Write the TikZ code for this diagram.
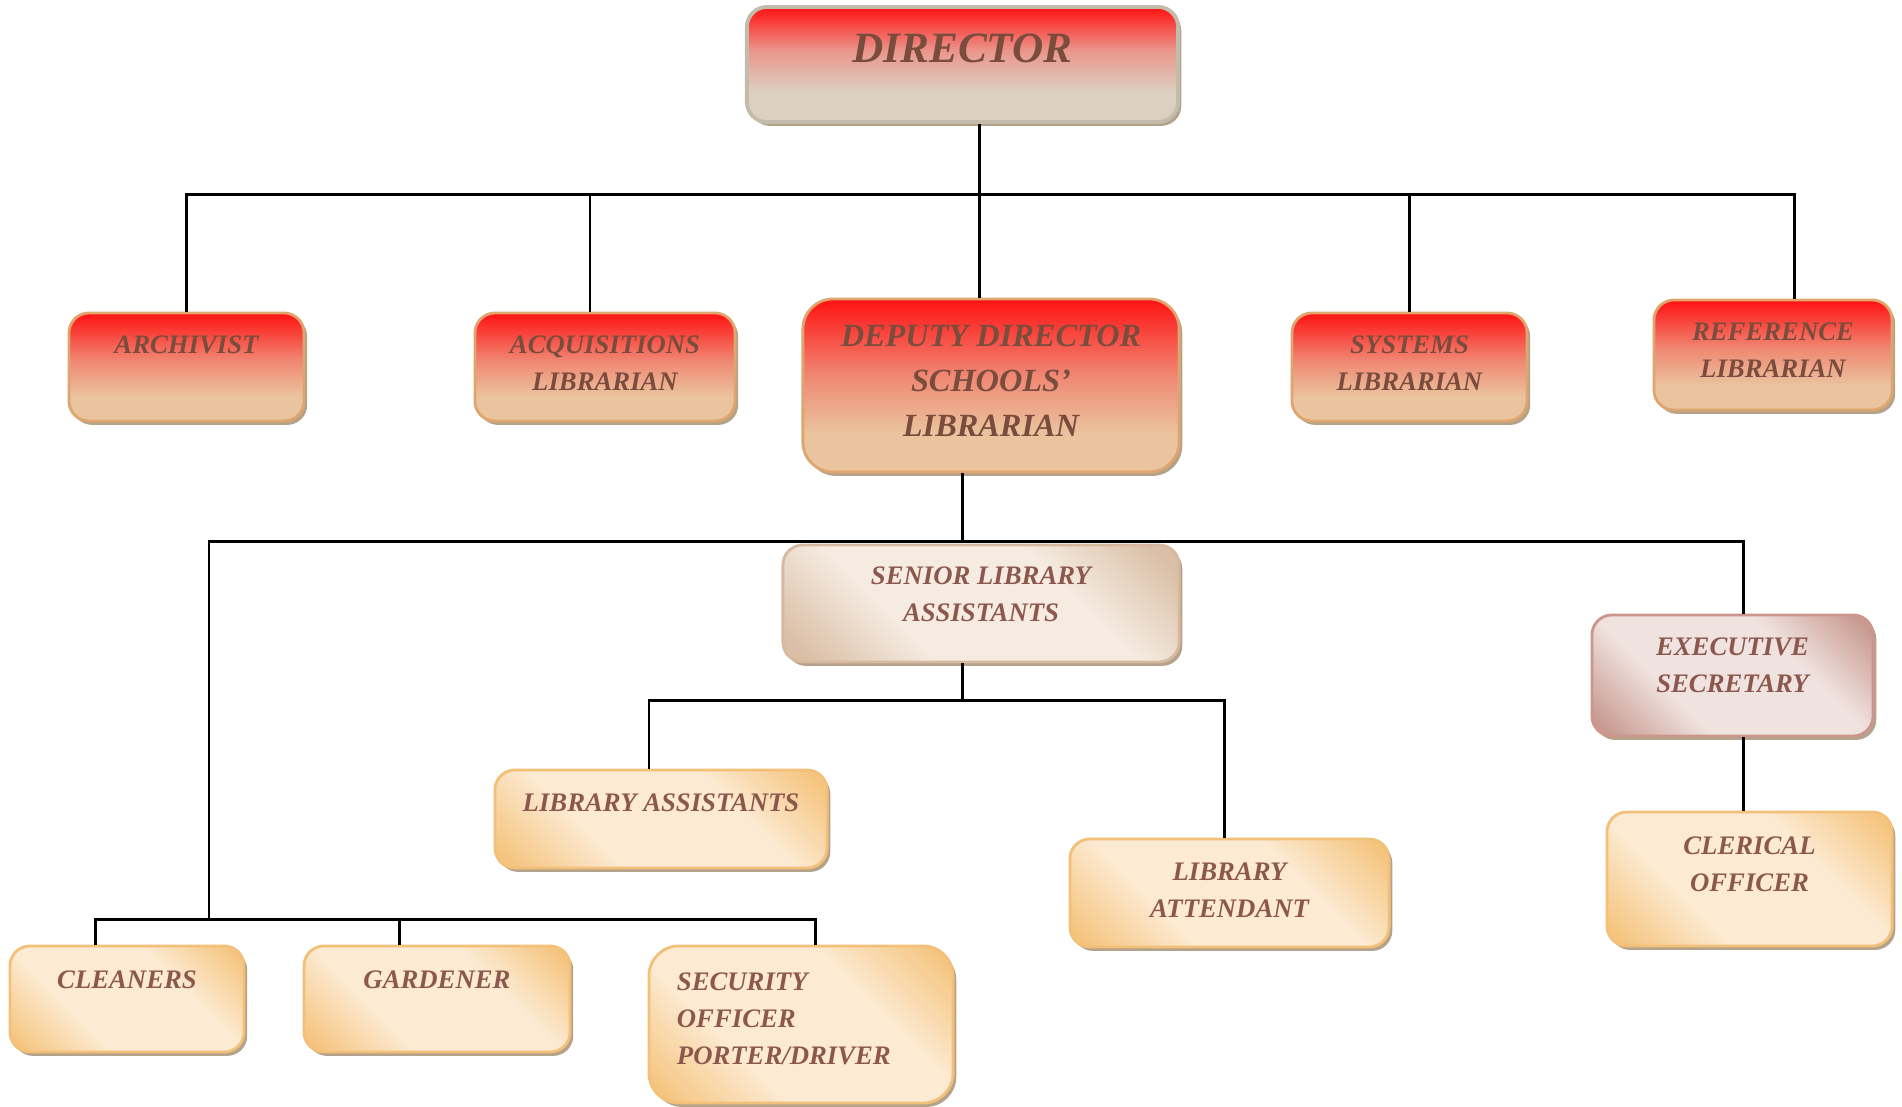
\documentclass[tikz,border=0pt]{standalone}
\usepackage{fontspec}
\setmainfont{Liberation Serif}
\usetikzlibrary{positioning,shadows}

\definecolor{redtop}{RGB}{255,18,18}
\definecolor{redmid}{RGB}{240,135,115}
\definecolor{redbot}{RGB}{234,196,158}
\definecolor{dirmid}{RGB}{234,150,140}
\definecolor{dirbot}{RGB}{220,208,192}
\definecolor{peachdk}{RGB}{245,197,128}
\definecolor{peachlt}{RGB}{252,234,210}
\definecolor{seniordk}{RGB}{218,190,165}
\definecolor{seniorlt}{RGB}{245,235,225}
\definecolor{execdk}{RGB}{200,155,145}
\definecolor{execlt}{RGB}{240,226,223}
\definecolor{redline}{RGB}{222,165,110}
\definecolor{dirline}{RGB}{195,188,172}
\definecolor{peachline}{RGB}{242,192,120}
\definecolor{seniorline}{RGB}{215,185,160}
\definecolor{execline}{RGB}{205,150,140}
\definecolor{shadowc}{RGB}{180,162,138}
\definecolor{txtred}{RGB}{122,76,62}
\definecolor{txtpeach}{RGB}{140,88,78}

\pgfdeclareverticalshading{redshade}{100bp}{color(0bp)=(redbot); color(36bp)=(redbot); color(53bp)=(redmid); color(75bp)=(redtop); color(100bp)=(redtop)}
\pgfdeclareverticalshading{dirshade}{100bp}{color(0bp)=(dirbot); color(38bp)=(dirbot); color(56bp)=(dirmid); color(75bp)=(redtop); color(100bp)=(redtop)}
\pgfdeclareverticalshading{peachshade}{100bp}{color(0bp)=(peachdk); color(18bp)=(peachdk); color(36bp)=(peachlt); color(64bp)=(peachlt); color(82bp)=(peachdk); color(100bp)=(peachdk)}
\pgfdeclareverticalshading{seniorshade}{100bp}{color(0bp)=(seniordk); color(18bp)=(seniordk); color(36bp)=(seniorlt); color(64bp)=(seniorlt); color(82bp)=(seniordk); color(100bp)=(seniordk)}
\pgfdeclareverticalshading{execshade}{100bp}{color(0bp)=(execdk); color(18bp)=(execdk); color(36bp)=(execlt); color(64bp)=(execlt); color(82bp)=(execdk); color(100bp)=(execdk)}

\begin{document}
\begin{tikzpicture}[
    x = 0.01cm, y = -0.01cm, % one unit = one pixel of the chart
    link/.style = {draw = black, line width = 0.85pt}
    ]

    \tikzset{
    box/.style = {rounded corners = 0.2cm, inner sep = 0pt, align = center,
        line width = 0.8pt, text = txtpeach,
        font = \bfseries\itshape\fontsize{7.6}{10.5}\selectfont,
        general shadow = {fill = shadowc, shadow xshift = 0.9pt, shadow yshift = -1.1pt}},
    redbox/.style = {box, draw = redline, shading = redshade, text = txtred},
    dirbox/.style = {box, draw = dirline, line width = 1.1pt, shading = dirshade, text = txtred,
        font = \bfseries\itshape\fontsize{12.3}{14}\selectfont},
    peachbox/.style = {box, draw = peachline, shading = peachshade, shading angle = -45},
    seniorbox/.style = {box, draw = seniorline, shading = seniorshade, shading angle = -45},
    execbox/.style = {box, draw = execline, shading = execshade, shading angle = -45},
    lift/.style = {text depth = #1*0.02cm} % moves the text up inside its box
    }

    \useasboundingbox (0,0) rectangle (1902,1107);

    % top level
    \node[dirbox, minimum width = 4.31cm, minimum height = 1.15cm, lift = 16] (director) at (962.5,64.5) {DIRECTOR};

    \node[redbox, minimum width = 2.35cm, minimum height = 1.08cm, lift = 22] (archivist) at (186.5,367) {ARCHIVIST};
    \node[redbox, minimum width = 2.60cm, minimum height = 1.08cm, lift = 4] (acquisitions) at (605,367) {ACQUISITIONS\\LIBRARIAN};
    \node[redbox, minimum width = 3.76cm, minimum height = 1.73cm, lift = 5, rounded corners = 0.3cm,
        font = \bfseries\itshape\fontsize{9.2}{12.8}\selectfont] (deputy) at (991,385.5) {DEPUTY DIRECTOR\\SCHOOLS’\\LIBRARIAN};
    \node[redbox, minimum width = 2.35cm, minimum height = 1.08cm, lift = 4] (systems) at (1409.5,367) {SYSTEMS\\LIBRARIAN};
    \node[redbox, minimum width = 2.38cm, minimum height = 1.10cm, lift = 5] (reference) at (1773,355) {REFERENCE\\LIBRARIAN};

    % staff under the deputy director
    \node[seniorbox, minimum width = 3.96cm, minimum height = 1.17cm, lift = 9] (senior) at (981,603.5) {SENIOR LIBRARY\\ASSISTANTS};
    \node[execbox, minimum width = 2.81cm, minimum height = 1.21cm, lift = 10] (executive) at (1732.5,675.5) {EXECUTIVE\\SECRETARY};
    \node[peachbox, minimum width = 2.85cm, minimum height = 1.34cm, lift = 15] (clerical) at (1749.5,879) {CLERICAL\\OFFICER};

    \node[peachbox, minimum width = 3.32cm, minimum height = 0.98cm, lift = 16] (assistants) at (661,819) {LIBRARY ASSISTANTS};
    \node[peachbox, minimum width = 3.19cm, minimum height = 1.08cm, lift = 3] (attendant) at (1229.5,893) {LIBRARY\\ATTENDANT};

    \node[peachbox, minimum width = 2.34cm, minimum height = 1.06cm, lift = 19] (cleaners) at (127,999) {CLEANERS};
    \node[peachbox, minimum width = 2.66cm, minimum height = 1.06cm, lift = 19] (gardener) at (437,999) {GARDENER};
    \node[peachbox, minimum width = 3.04cm, minimum height = 1.57cm, lift = 43, rounded corners = 0.3cm,
        align = left, text width = 2.48cm] (security) at (801,1024.5) {SECURITY\\OFFICER\\PORTER/DRIVER};

    % bus lines
    \coordinate (bus1) at (979,195);
    \coordinate (bus2) at (962,542);
    \coordinate (bus3) at (209,920);
    \coordinate (bus4) at (962,701);

    \draw[link] (director.south -| bus1) -- (deputy.north -| bus1);
    \draw[link] (archivist.north) |- (bus1) -| ([xshift = .21cm]reference.north);
    \draw[link] ([xshift = -.15cm]acquisitions.north) -- ([xshift = -.15cm]acquisitions.north |- bus1);
    \draw[link] (systems.north) -- (systems.north |- bus1);

    \draw[link] (deputy.south -| bus2) -- (bus2);
    \draw[link] (bus3) |- (bus2) -| ([xshift = .105cm]executive.north);
    \draw[link] ([xshift = .105cm]executive.south) -- ([xshift = .105cm]executive.south |- clerical.north);

    \draw[link] (senior.south -| bus4) -- (bus4);
    \draw[link] ([xshift = -.12cm]assistants.north) |- (bus4) -| ([xshift = -.055cm]attendant.north);

    \draw[link] ([xshift = -.31cm]cleaners.north) |- (bus3) -| ([xshift = .14cm]security.north);
    \draw[link] ([xshift = -.37cm]gardener.north) -- ([xshift = -.37cm]gardener.north |- bus3);
\end{tikzpicture}
\end{document}
